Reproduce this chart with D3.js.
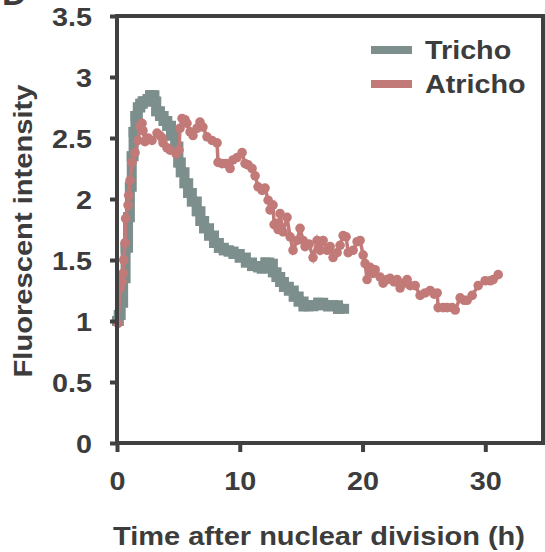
<!DOCTYPE html>
<html>
<head>
<meta charset="utf-8">
<script src="https://cdn.jsdelivr.net/npm/d3@7"></script>
<style>
  body { margin: 0; background: #fff; }
  text { font-family: 'Liberation Sans', Arial, sans-serif; font-weight: bold; fill: #3c3c3c; }
</style>
</head>
<body>
<div id="chartFrame"></div>
<script>
const ink = '#404040'
const trichoColor = '#7c8f8c'
const atrichoColor = '#c27a78'

const yTicks = [0, 0.5, 1, 1.5, 2, 2.5, 3, 3.5]
const yTickLabels = ['0', '0.5', '1', '1.5', '2', '2.5', '3', '3.5']
const xTicks = [0, 10, 20, 30]
const seriesNames = ['Tricho', 'Atricho']

// Tricho: [hours, intensity]
const tricho = [
  [0, 1.0], [0.15, 1.05], [0.3, 1.15], [0.5, 1.35], [0.7, 1.6], [0.9, 1.85], [1.05, 2.1],
  [1.2, 2.35], [1.35, 2.55], [1.5, 2.68], [1.7, 2.75], [1.9, 2.78], [2.1, 2.8], [2.3, 2.8],
  [2.5, 2.82], [2.7, 2.85], [2.9, 2.85], [3.05, 2.8], [3.2, 2.72], [3.5, 2.68], [3.8, 2.64],
  [4.1, 2.6], [4.4, 2.52], [4.75, 2.43], [5.0, 2.3], [5.2, 2.22], [5.5, 2.13], [5.8, 2.05],
  [6.1, 1.98], [6.5, 1.9], [6.8, 1.82], [7.1, 1.76], [7.5, 1.7], [7.9, 1.64], [8.3, 1.6],
  [8.7, 1.58], [9.1, 1.57], [9.5, 1.55], [10.0, 1.52], [10.5, 1.48], [11.0, 1.45], [11.5, 1.44],
  [11.8, 1.43], [12.1, 1.48], [12.4, 1.47], [12.7, 1.4], [13.0, 1.36], [13.3, 1.32], [13.6, 1.28],
  [14.0, 1.25], [14.4, 1.2], [14.8, 1.16], [15.2, 1.12], [15.6, 1.12], [16.0, 1.13], [16.4, 1.15],
  [16.8, 1.13], [17.2, 1.12], [17.6, 1.13], [18.0, 1.1], [18.5, 1.1]
]

// Atricho: [hours, intensity]
const atricho = [
  [0.08, 0.98], [0.24, 1.27], [0.41, 1.32], [0.49, 1.39], [0.55, 1.5], [0.65, 1.64], [0.7, 1.84],
  [0.9, 1.95], [0.95, 2.03], [1.06, 2.15], [1.22, 2.3], [1.47, 2.38], [1.71, 2.48], [1.87, 2.6],
  [2.04, 2.62], [2.12, 2.56], [2.28, 2.47], [2.53, 2.5], [2.85, 2.48], [3.26, 2.54], [3.5, 2.52],
  [3.67, 2.5], [3.75, 2.46], [4.07, 2.42], [4.32, 2.4], [4.81, 2.37], [5.05, 2.4], [5.13, 2.58],
  [5.3, 2.66], [5.54, 2.65], [5.7, 2.62], [5.95, 2.55], [6.19, 2.52], [6.52, 2.58], [6.76, 2.63],
  [7.0, 2.59], [7.33, 2.51], [7.74, 2.48], [8.15, 2.46], [8.23, 2.3], [8.56, 2.29], [8.88, 2.29],
  [9.21, 2.25], [9.45, 2.32], [9.78, 2.34], [10.19, 2.38], [10.43, 2.29], [10.68, 2.28], [11.0, 2.25],
  [11.25, 2.19], [11.49, 2.1], [11.82, 2.07], [12.06, 2.09], [12.31, 1.99], [12.47, 1.91], [12.71, 1.95],
  [12.8, 1.79], [12.95, 1.8], [13.12, 1.75], [13.28, 1.88], [13.53, 1.73], [13.85, 1.85], [14.1, 1.69],
  [14.34, 1.58], [14.67, 1.66], [14.91, 1.76], [15.16, 1.66], [15.32, 1.61], [15.65, 1.63], [15.97, 1.52],
  [16.3, 1.66], [16.54, 1.58], [16.79, 1.66], [17.11, 1.58], [17.36, 1.61], [17.6, 1.52], [17.93, 1.56],
  [18.17, 1.62], [18.42, 1.7], [18.66, 1.69], [18.83, 1.56], [19.23, 1.58], [19.56, 1.65], [19.8, 1.66],
  [20.05, 1.54], [20.21, 1.47], [20.37, 1.34], [20.62, 1.44], [20.86, 1.39], [21.03, 1.42], [21.43, 1.36],
  [21.68, 1.31], [22.0, 1.34], [22.25, 1.35], [22.57, 1.32], [22.82, 1.34], [23.06, 1.27], [23.39, 1.31],
  [23.63, 1.34], [23.88, 1.29], [24.29, 1.29], [24.69, 1.21], [25.1, 1.23], [25.51, 1.25], [25.84, 1.22],
  [26.08, 1.23], [26.16, 1.11], [26.57, 1.11], [26.89, 1.11], [27.3, 1.11], [27.55, 1.09], [27.95, 1.19],
  [28.28, 1.17], [28.52, 1.17], [28.93, 1.21], [29.42, 1.29], [29.99, 1.33], [30.4, 1.33], [30.64, 1.34],
  [31.05, 1.38]
]

const W = 545
const H = 552
const plot = { left: 117, right: 543, top: 16, bottom: 443 }
const sx = 1.15 // fonts in the figure are a bit wide

let svg = d3.select('#chartFrame').append('svg')
  .attr('width', W)
  .attr('height', H)

const xScale = d3.scaleLinear().domain([0, 34.7]).range([plot.left, plot.right])
const yScale = d3.scaleLinear().domain([0, 3.5]).range([plot.bottom, plot.top])

// clipped panel letter in the corner
svg.append('text')
  .attr('x', 2)
  .attr('y', 5)
  .style('font-size', '34px')
  .text('D')

// series
svg.append('path')
  .datum(tricho)
  .attr('fill', 'none')
  .attr('stroke', trichoColor)
  .attr('stroke-width', 10)
  .attr('stroke-linejoin', 'miter')
  .attr('d', d3.line().x(d => xScale(d[0])).y(d => yScale(d[1])).curve(d3.curveStepAfter))

svg.append('g')
  .selectAll('rect')
  .data(tricho)
  .enter()
  .append('rect')
  .attr('x', d => xScale(d[0]) - 5)
  .attr('y', d => yScale(d[1]) - 5)
  .attr('width', 10)
  .attr('height', 10)
  .style('fill', trichoColor)

svg.append('path')
  .datum(atricho)
  .attr('fill', 'none')
  .attr('stroke', atrichoColor)
  .attr('stroke-width', 3.5)
  .attr('d', d3.line().x(d => xScale(d[0])).y(d => yScale(d[1])))

svg.append('g')
  .selectAll('circle')
  .data(atricho)
  .enter()
  .append('circle')
  .attr('cx', d => xScale(d[0]))
  .attr('cy', d => yScale(d[1]))
  .attr('r', 4.8)
  .style('fill', atrichoColor)

// axes
let yaxis = svg.append('g')
  .attr('transform', `translate(${plot.left},0)`)
  .call(d3.axisLeft(yScale).tickValues(yTicks).tickFormat((d, i) => yTickLabels[i]).tickSize(7))
yaxis.select('.domain').remove()
yaxis.selectAll('line').attr('stroke', ink).attr('stroke-width', 4)
yaxis.selectAll('text')
  .attr('x', -25 / sx)
  .attr('dy', '0.36em')
  .attr('transform', `scale(${sx},1)`)
  .style('font-size', '25px')
  .style('font-family', null)
  .attr('fill', '#3c3c3c')

let xaxis = svg.append('g')
  .attr('transform', `translate(0,${plot.bottom})`)
  .call(d3.axisBottom(xScale).tickValues(xTicks).tickSize(9))
xaxis.select('.domain').remove()
xaxis.selectAll('line').attr('stroke', ink).attr('stroke-width', 4)
xaxis.selectAll('text')
  .attr('y', 47)
  .attr('dy', 0)
  .attr('x', 0)
  .attr('transform', `scale(${sx},1)`)
  .style('font-size', '25px')
  .style('font-family', null)
  .attr('fill', '#3c3c3c')

// frame
svg.append('rect')
  .attr('x', plot.left)
  .attr('y', plot.top)
  .attr('width', plot.right - plot.left)
  .attr('height', plot.bottom - plot.top)
  .attr('fill', 'none')
  .attr('stroke', ink)
  .attr('stroke-width', 4)

// axis titles
svg.append('text')
  .attr('x', 319)
  .attr('y', 545)
  .attr('text-anchor', 'middle')
  .attr('textLength', 412)
  .attr('lengthAdjust', 'spacingAndGlyphs')
  .style('font-size', '25px')
  .text('Time after nuclear division (h)')

svg.append('text')
  .attr('transform', 'translate(32,231) rotate(-90)')
  .attr('text-anchor', 'middle')
  .attr('textLength', 293)
  .attr('lengthAdjust', 'spacingAndGlyphs')
  .style('font-size', '25px')
  .text('Fluorescent intensity')

// legend
const legendColors = [trichoColor, atrichoColor]
let legend = svg.append('g')
seriesNames.forEach((name, i) => {
  let ly = 50 + i * 34
  legend.append('line')
    .attr('x1', 371).attr('x2', 412)
    .attr('y1', ly).attr('y2', ly)
    .attr('stroke', legendColors[i])
    .attr('stroke-width', 8)
  legend.append('text')
    .attr('x', 425 / sx)
    .attr('y', ly + 9)
    .attr('transform', `scale(${sx},1)`)
    .style('font-size', '25px')
    .text(name)
})
</script>
</body>
</html>
